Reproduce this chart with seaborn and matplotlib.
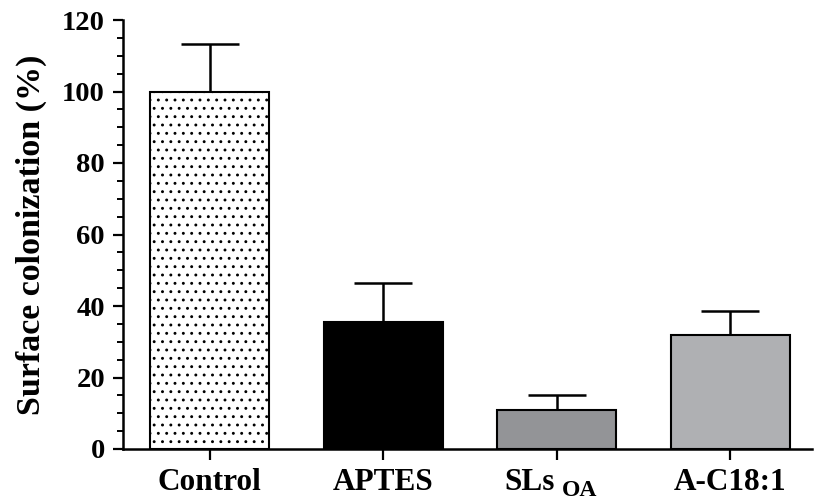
import numpy as np
import pandas as pd
import matplotlib
matplotlib.use("Agg")
import matplotlib.pyplot as plt
import matplotlib.transforms as mtrans
from matplotlib.ticker import MultipleLocator
import seaborn as sns

categories = ["Control", "APTES", "SLs", "A-C18:1"]
values = [100.0, 35.5, 10.8, 31.8]
errors = [13.3, 10.9, 4.2, 6.8]
colors = ["#ffffff", "#000000", "#939497", "#afb0b3"]
yticks = [0, 20, 40, 60, 80, 100, 120]

sns.set_theme(style="ticks")
plt.rcParams["font.family"] = ["Liberation Serif", "DejaVu Serif"]
plt.rcParams["font.weight"] = "bold"
plt.rcParams["text.color"] = "black"
plt.rcParams["xtick.color"] = "black"
plt.rcParams["ytick.color"] = "black"
plt.rcParams["axes.labelcolor"] = "black"
plt.rcParams["hatch.linewidth"] = 0.9
plt.rcParams["hatch.color"] = "#222222"

df = pd.DataFrame({"cat": categories, "val": values})

fig = plt.figure(figsize=(8.14, 4.97), dpi=100)
ax = fig.add_axes([123/814, 1-449/497, (812-123)/814, (449-20)/497])

sns.barplot(data=df, x="cat", y="val", hue="cat", palette=colors, legend=False,
            width=0.685, edgecolor="black", linewidth=1.5, ax=ax, errorbar=None,
            saturation=1)
ax.patches[0].set_hatch("..")

eb = ax.errorbar(np.arange(len(categories)), values,
                 yerr=[np.zeros(len(errors)), errors], fmt="none",
                 ecolor="black", elinewidth=1.8, capsize=21, capthick=1.8, zorder=3)
# remove the lower caps (error bars drawn upward only)
eb[1][0].remove()

ax.set_xlim(-0.5, 3.47)
ax.set_ylim(0, 120)
ax.set_yticks(yticks)
ax.yaxis.set_minor_locator(MultipleLocator(5))
ax.set_yticklabels([str(t) for t in yticks], fontsize=20.5, fontweight="bold")

for side in ["top", "right"]:
    ax.spines[side].set_visible(False)
for side in ["left", "bottom"]:
    ax.spines[side].set_linewidth(1.8)
    ax.spines[side].set_color("black")

ax.tick_params(axis="y", which="major", length=7, width=1.6, color="black", pad=6)
ax.tick_params(axis="y", which="minor", length=4.5, width=1.4, color="black")
ax.tick_params(axis="x", which="major", length=8, width=1.6, color="black", pad=6)

ax.set_xlabel("")
ax.set_ylabel("Surface colonization (%)", fontsize=24.5, fontweight="bold", labelpad=11)

ax.set_xticks(range(len(categories)))
ax.set_xticklabels(categories, fontsize=22.5, fontweight="bold")
lbl = ax.get_xticklabels()[2]
lbl.set_transform(lbl.get_transform() + mtrans.ScaledTranslation(-0.27, 0, fig.dpi_scale_trans))
ax.text(2, 0, "OA", fontsize=17, fontweight="bold", ha="center", va="baseline",
        transform=mtrans.blended_transform_factory(ax.transData, ax.transAxes)
        + mtrans.ScaledTranslation(0.225, -0.465, fig.dpi_scale_trans),
        clip_on=False)

fig.savefig("out.png", dpi=100)
